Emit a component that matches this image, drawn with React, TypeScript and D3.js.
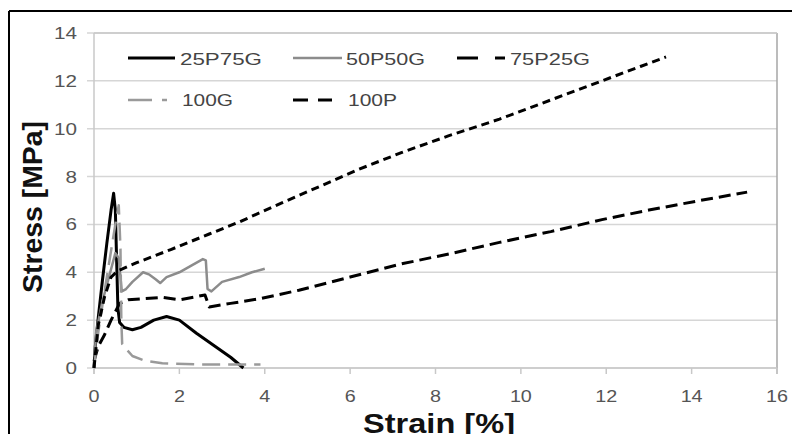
import React from "react";
import * as d3 from "d3";

const xTicks = [0, 2, 4, 6, 8, 10, 12, 14, 16];
const yTicks = [0, 2, 4, 6, 8, 10, 12, 14];

const s25P75G: [number, number][] = [
  [0, 0], [0.03, 0.9], [0.1, 2.1], [0.2, 3.7], [0.3, 5.2], [0.4, 6.6], [0.46, 7.3],
  [0.5, 6.6], [0.53, 4.5], [0.56, 2.5], [0.6, 1.9], [0.7, 1.7], [0.9, 1.6],
  [1.1, 1.7], [1.4, 2.0], [1.7, 2.15], [2.0, 2.0], [2.4, 1.45], [2.8, 0.95],
  [3.2, 0.45], [3.5, 0],
];
const s50P50G: [number, number][] = [
  [0, 0], [0.05, 1.5], [0.2, 2.8], [0.35, 3.8], [0.5, 4.8], [0.58, 4.6],
  [0.65, 3.2], [0.75, 3.3], [0.9, 3.6], [1.15, 4.0], [1.3, 3.9], [1.45, 3.7],
  [1.55, 3.55], [1.7, 3.8], [2.0, 4.0], [2.3, 4.3], [2.55, 4.55], [2.62, 4.5],
  [2.66, 3.3], [2.75, 3.2], [3.0, 3.6], [3.4, 3.8], [3.7, 4.0], [4.0, 4.15],
];
const s75P25G: [number, number][] = [
  [0, 0.3], [0.1, 0.9], [0.25, 1.4], [0.4, 2.0], [0.6, 2.7], [0.8, 2.85],
  [1.2, 2.9], [1.6, 2.95], [2.0, 2.85], [2.6, 3.05], [2.7, 2.55], [3.2, 2.7],
  [3.9, 2.9], [4.8, 3.25], [6.0, 3.8], [7.2, 4.35], [8.4, 4.8], [9.5, 5.25],
  [10.7, 5.7], [11.9, 6.2], [13.0, 6.6], [14.2, 7.0], [15.3, 7.35],
];
const s100G: [number, number][] = [
  [0, 0], [0.1, 1.5], [0.3, 3.8], [0.5, 6.0], [0.58, 6.8], [0.62, 5.0],
  [0.64, 2.0], [0.66, 1.0], [0.75, 0.8], [0.9, 0.5], [1.2, 0.3], [1.6, 0.2],
  [2.5, 0.15], [3.9, 0.15],
];
const s100P: [number, number][] = [
  [0, 0], [0.1, 1.8], [0.25, 3.0], [0.4, 3.8], [0.55, 4.05], [0.8, 4.25],
  [1.0, 4.4], [1.8, 4.95], [2.7, 5.6], [3.4, 6.1], [4.4, 6.9], [5.3, 7.6],
  [6.2, 8.3], [7.2, 9.0], [8.3, 9.7], [9.5, 10.4], [10.7, 11.2], [11.9, 12.0],
  [12.8, 12.6], [13.4, 13.0],
];

const seriesNames = ["25P75G", "50P50G", "75P25G", "100G", "100P"];

export default function App() {
  const W = 792, H = 434;
  const x = d3.scaleLinear().domain([0, 16]).range([94, 777]);
  const y = d3.scaleLinear().domain([0, 14]).range([368, 33]);
  const line = d3.line<[number, number]>().x(d => x(d[0])).y(d => y(d[1]));

  const styles = [
    { data: s25P75G, stroke: "#000", w: 3, dash: "none" },
    { data: s50P50G, stroke: "#8c8c8c", w: 2.5, dash: "none" },
    { data: s75P25G, stroke: "#000", w: 3, dash: "12 6" },
    { data: s100G, stroke: "#9a9a9a", w: 2.5, dash: "18 8" },
    { data: s100P, stroke: "#000", w: 3, dash: "8 5" },
  ];

  const legend = [
    { name: seriesNames[0], x1: 128, x2: 175, y: 58, tx: 180, tw: 82, ty: 65, stroke: "#000", w: 3, dash: "none" },
    { name: seriesNames[1], x1: 293, x2: 342, y: 58, tx: 346, tw: 79, ty: 65, stroke: "#8c8c8c", w: 2.5, dash: "none" },
    { name: seriesNames[2], x1: 457, x2: 505, y: 58, tx: 510, tw: 80, ty: 65, stroke: "#000", w: 3, dash: "21 17 10 100" },
    { name: seriesNames[3], x1: 128, x2: 167, y: 100, tx: 182, tw: 51, ty: 106, stroke: "#9a9a9a", w: 2.5, dash: "24 10 5 100" },
    { name: seriesNames[4], x1: 293, x2: 332, y: 100, tx: 348, tw: 49, ty: 106, stroke: "#000", w: 3, dash: "15 10" },
  ];

  const font = "Liberation Sans, Arial, sans-serif";

  return (
    <svg width={W} height={H} style={{ position: "absolute", left: 0, top: 0, background: "#fff" }}>
      <rect x={0} y={0} width={W} height={H} fill="#fff" />
      {/* outer frame */}
      <line x1={9} y1={11} x2={W} y2={11} stroke="#000" strokeWidth={2} />
      <line x1={9} y1={11} x2={9} y2={H} stroke="#000" strokeWidth={2} />

      {/* gridlines */}
      {yTicks.map(t => (
        <line key={"g" + t} x1={87} x2={x(16)} y1={y(t)} y2={y(t)} stroke="#d6d6d6" strokeWidth={1.5} />
      ))}
      {/* plot border */}
      <line x1={x(16)} x2={x(16)} y1={y(14)} y2={y(0) + 6} stroke="#a6a6a6" strokeWidth={1.5} />
      <line x1={x(0)} x2={x(16)} y1={y(14)} y2={y(14)} stroke="#c8c8c8" strokeWidth={1.5} />
      <line x1={x(0)} x2={x(0)} y1={y(14)} y2={y(0) + 6} stroke="#c8c8c8" strokeWidth={1.5} />
      <line x1={x(0)} x2={x(16)} y1={y(0)} y2={y(0)} stroke="#c8c8c8" strokeWidth={1.5} />
      {xTicks.map(t => (
        <line key={"xt" + t} x1={x(t)} x2={x(t)} y1={y(0)} y2={y(0) + 6} stroke="#c8c8c8" strokeWidth={1.5} />
      ))}

      {/* tick labels */}
      {yTicks.map(t => (
        <text key={"yl" + t} x={77} y={y(t) + 6} textAnchor="end" fontFamily={font} fontSize={17}
          fill="#555" textLength={String(t).length * 11.5} lengthAdjust="spacingAndGlyphs">{t}</text>
      ))}
      {xTicks.map(t => (
        <text key={"xl" + t} x={x(t)} y={402} textAnchor="middle" fontFamily={font} fontSize={17}
          fill="#555" textLength={String(t).length * 11} lengthAdjust="spacingAndGlyphs">{t}</text>
      ))}

      {/* series */}
      {styles.map((s, i) => (
        <path key={"s" + i} d={line(s.data) || ""} fill="none" stroke={s.stroke} strokeWidth={s.w}
          strokeDasharray={s.dash} strokeLinejoin="round" />
      ))}

      {/* legend */}
      {legend.map((l, i) => (
        <g key={"l" + i}>
          <line x1={l.x1} x2={l.x2} y1={l.y} y2={l.y} stroke={l.stroke} strokeWidth={l.w} strokeDasharray={l.dash} />
          <text x={l.tx} y={l.ty} fontFamily={font} fontSize={16} fill="#444"
            textLength={l.tw} lengthAdjust="spacingAndGlyphs">{l.name}</text>
        </g>
      ))}

      {/* axis titles */}
      <text x={439} y={433} textAnchor="middle" fontFamily={font} fontWeight="bold" fontSize={27}
        fill="#111" textLength={152} lengthAdjust="spacingAndGlyphs">Strain [%]</text>
      <text transform="translate(42,207) rotate(-90)" textAnchor="middle" fontFamily={font} fontWeight="bold"
        fontSize={27} fill="#111" textLength={172} lengthAdjust="spacingAndGlyphs">Stress [MPa]</text>
    </svg>
  );
}
